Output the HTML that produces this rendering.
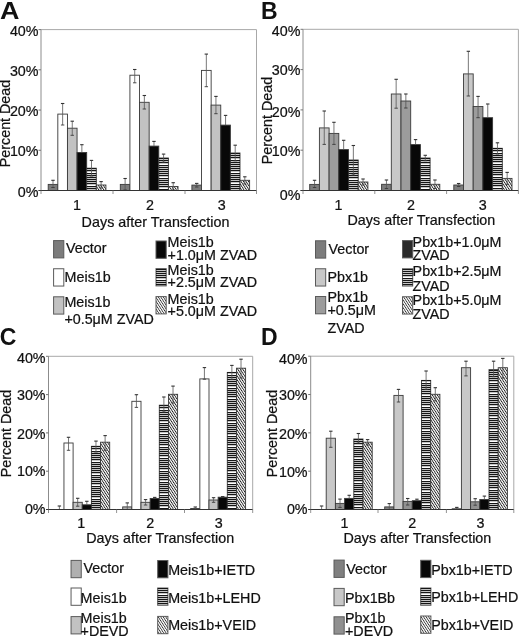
<!DOCTYPE html>
<html><head><meta charset="utf-8"><title>Figure</title>
<style>
html,body{margin:0;padding:0;background:#fff;}
body{width:520px;height:638px;overflow:hidden;}
svg{display:block;font-family:"Liberation Sans", sans-serif;filter:grayscale(1);}
text{fill:#111;stroke:#111;stroke-width:0.22px;}
</style></head><body>
<svg width="520" height="638" viewBox="0 0 520 638">
<defs>
<pattern id="hs" patternUnits="userSpaceOnUse" width="4" height="2.25" x="0" y="0">
<rect width="4" height="2.25" fill="#fff"/><rect width="4" height="1.25" fill="#111"/>
</pattern>
<pattern id="dg" patternUnits="userSpaceOnUse" width="2.1" height="2.1" patternTransform="rotate(-33)">
<rect width="2.1" height="2.1" fill="#fff"/><rect width="0.85" height="2.1" fill="#1e1e1e"/>
</pattern>
<pattern id="hs2" patternUnits="userSpaceOnUse" width="4" height="2.25" x="0" y="0">
<rect width="4" height="2.25" fill="#fff"/><rect width="4" height="1.25" fill="#111"/>
</pattern>
<pattern id="dg2" patternUnits="userSpaceOnUse" width="2.1" height="2.1" patternTransform="rotate(-33)">
<rect width="2.1" height="2.1" fill="#fff"/><rect width="0.8" height="2.1" fill="#333"/>
</pattern>
</defs>
<rect width="520" height="638" fill="#fff"/>
<path d="M41.00 29.60 H256.50 V190.50" fill="none" stroke="#a8a8a8" stroke-width="1"/>
<line x1="41.00" y1="29.60" x2="41.00" y2="190.50" stroke="#8c8c8c" stroke-width="1"/>
<line x1="38.50" y1="190.50" x2="41.00" y2="190.50" stroke="#777" stroke-width="1"/>
<line x1="38.50" y1="150.28" x2="41.00" y2="150.28" stroke="#777" stroke-width="1"/>
<line x1="38.50" y1="110.05" x2="41.00" y2="110.05" stroke="#777" stroke-width="1"/>
<line x1="38.50" y1="69.82" x2="41.00" y2="69.82" stroke="#777" stroke-width="1"/>
<line x1="38.50" y1="29.60" x2="41.00" y2="29.60" stroke="#777" stroke-width="1"/>
<rect x="48.20" y="184.40" width="9.62" height="6.10" fill="#7c7c7c" stroke="#3a3a3a" stroke-width="0.9"/>
<rect x="57.82" y="114.10" width="9.62" height="76.40" fill="#ffffff" stroke="#3a3a3a" stroke-width="0.9"/>
<rect x="67.44" y="128.20" width="9.62" height="62.30" fill="#c2c2c2" stroke="#3a3a3a" stroke-width="0.9"/>
<rect x="77.06" y="152.50" width="9.62" height="38.00" fill="#080808" stroke="#3a3a3a" stroke-width="0.9"/>
<rect x="86.68" y="168.20" width="9.62" height="22.30" fill="#fff" stroke="#3a3a3a" stroke-width="0.9"/>
<path d="M86.68 168.00h9.62v1.35h-9.62zM86.68 170.00h9.62v1.35h-9.62zM86.68 173.00h9.62v1.35h-9.62zM86.68 175.00h9.62v1.35h-9.62zM86.68 177.00h9.62v1.35h-9.62zM86.68 179.00h9.62v1.35h-9.62zM86.68 181.00h9.62v1.35h-9.62zM86.68 183.00h9.62v1.35h-9.62zM86.68 186.00h9.62v1.35h-9.62zM86.68 188.00h9.62v1.35h-9.62zM86.68 190.00h9.62v0.50h-9.62z" fill="#151515"/>
<rect x="96.30" y="185.00" width="9.62" height="5.50" fill="url(#dg)" stroke="#3a3a3a" stroke-width="0.9"/>
<line x1="53.01" y1="180.30" x2="53.01" y2="187.50" stroke="#555" stroke-width="0.8"/>
<line x1="51.31" y1="180.30" x2="54.71" y2="180.30" stroke="#333" stroke-width="1.1"/>
<line x1="51.31" y1="187.50" x2="54.71" y2="187.50" stroke="#3a3a3a" stroke-width="0.9"/>
<line x1="62.63" y1="103.50" x2="62.63" y2="125.00" stroke="#555" stroke-width="0.8"/>
<line x1="60.93" y1="103.50" x2="64.33" y2="103.50" stroke="#333" stroke-width="1.1"/>
<line x1="60.93" y1="125.00" x2="64.33" y2="125.00" stroke="#3a3a3a" stroke-width="0.9"/>
<line x1="72.25" y1="121.20" x2="72.25" y2="135.30" stroke="#555" stroke-width="0.8"/>
<line x1="70.55" y1="121.20" x2="73.95" y2="121.20" stroke="#333" stroke-width="1.1"/>
<line x1="70.55" y1="135.30" x2="73.95" y2="135.30" stroke="#3a3a3a" stroke-width="0.9"/>
<line x1="81.87" y1="144.70" x2="81.87" y2="152.50" stroke="#555" stroke-width="0.8"/>
<line x1="80.17" y1="144.70" x2="83.57" y2="144.70" stroke="#333" stroke-width="1.1"/>
<line x1="91.49" y1="160.40" x2="91.49" y2="176.00" stroke="#555" stroke-width="0.8"/>
<line x1="89.79" y1="160.40" x2="93.19" y2="160.40" stroke="#333" stroke-width="1.1"/>
<line x1="89.79" y1="176.00" x2="93.19" y2="176.00" stroke="#3a3a3a" stroke-width="0.9"/>
<line x1="101.11" y1="181.60" x2="101.11" y2="188.00" stroke="#555" stroke-width="0.8"/>
<line x1="99.41" y1="181.60" x2="102.81" y2="181.60" stroke="#333" stroke-width="1.1"/>
<line x1="99.41" y1="188.00" x2="102.81" y2="188.00" stroke="#3a3a3a" stroke-width="0.9"/>
<rect x="120.30" y="184.40" width="9.62" height="6.10" fill="#7c7c7c" stroke="#3a3a3a" stroke-width="0.9"/>
<rect x="129.92" y="75.20" width="9.62" height="115.30" fill="#ffffff" stroke="#3a3a3a" stroke-width="0.9"/>
<rect x="139.54" y="102.30" width="9.62" height="88.20" fill="#c2c2c2" stroke="#3a3a3a" stroke-width="0.9"/>
<rect x="149.16" y="146.10" width="9.62" height="44.40" fill="#080808" stroke="#3a3a3a" stroke-width="0.9"/>
<rect x="158.78" y="158.00" width="9.62" height="32.50" fill="#fff" stroke="#3a3a3a" stroke-width="0.9"/>
<path d="M158.78 158.00h9.62v1.35h-9.62zM158.78 160.00h9.62v1.35h-9.62zM158.78 162.00h9.62v1.35h-9.62zM158.78 165.00h9.62v1.35h-9.62zM158.78 167.00h9.62v1.35h-9.62zM158.78 169.00h9.62v1.35h-9.62zM158.78 171.00h9.62v1.35h-9.62zM158.78 173.00h9.62v1.35h-9.62zM158.78 175.00h9.62v1.35h-9.62zM158.78 178.00h9.62v1.35h-9.62zM158.78 180.00h9.62v1.35h-9.62zM158.78 182.00h9.62v1.35h-9.62zM158.78 184.00h9.62v1.35h-9.62zM158.78 186.00h9.62v1.35h-9.62zM158.78 189.00h9.62v1.35h-9.62z" fill="#151515"/>
<rect x="168.40" y="186.50" width="9.62" height="4.00" fill="url(#dg)" stroke="#3a3a3a" stroke-width="0.9"/>
<line x1="125.11" y1="178.50" x2="125.11" y2="190.00" stroke="#555" stroke-width="0.8"/>
<line x1="123.41" y1="178.50" x2="126.81" y2="178.50" stroke="#333" stroke-width="1.1"/>
<line x1="123.41" y1="190.00" x2="126.81" y2="190.00" stroke="#3a3a3a" stroke-width="0.9"/>
<line x1="134.73" y1="69.50" x2="134.73" y2="82.80" stroke="#555" stroke-width="0.8"/>
<line x1="133.03" y1="69.50" x2="136.43" y2="69.50" stroke="#333" stroke-width="1.1"/>
<line x1="133.03" y1="82.80" x2="136.43" y2="82.80" stroke="#3a3a3a" stroke-width="0.9"/>
<line x1="144.35" y1="95.50" x2="144.35" y2="109.00" stroke="#555" stroke-width="0.8"/>
<line x1="142.65" y1="95.50" x2="146.05" y2="95.50" stroke="#333" stroke-width="1.1"/>
<line x1="142.65" y1="109.00" x2="146.05" y2="109.00" stroke="#3a3a3a" stroke-width="0.9"/>
<line x1="153.97" y1="141.40" x2="153.97" y2="146.10" stroke="#555" stroke-width="0.8"/>
<line x1="152.27" y1="141.40" x2="155.67" y2="141.40" stroke="#333" stroke-width="1.1"/>
<line x1="163.59" y1="154.10" x2="163.59" y2="162.20" stroke="#555" stroke-width="0.8"/>
<line x1="161.89" y1="154.10" x2="165.29" y2="154.10" stroke="#333" stroke-width="1.1"/>
<line x1="161.89" y1="162.20" x2="165.29" y2="162.20" stroke="#3a3a3a" stroke-width="0.9"/>
<line x1="173.21" y1="182.70" x2="173.21" y2="190.00" stroke="#555" stroke-width="0.8"/>
<line x1="171.51" y1="182.70" x2="174.91" y2="182.70" stroke="#333" stroke-width="1.1"/>
<line x1="171.51" y1="190.00" x2="174.91" y2="190.00" stroke="#3a3a3a" stroke-width="0.9"/>
<rect x="191.90" y="185.10" width="9.62" height="5.40" fill="#7c7c7c" stroke="#3a3a3a" stroke-width="0.9"/>
<rect x="201.52" y="70.40" width="9.62" height="120.10" fill="#ffffff" stroke="#3a3a3a" stroke-width="0.9"/>
<rect x="211.14" y="105.10" width="9.62" height="85.40" fill="#c2c2c2" stroke="#3a3a3a" stroke-width="0.9"/>
<rect x="220.76" y="125.10" width="9.62" height="65.40" fill="#080808" stroke="#3a3a3a" stroke-width="0.9"/>
<rect x="230.38" y="153.00" width="9.62" height="37.50" fill="#fff" stroke="#3a3a3a" stroke-width="0.9"/>
<path d="M230.38 153.00h9.62v1.35h-9.62zM230.38 155.00h9.62v1.35h-9.62zM230.38 157.00h9.62v1.35h-9.62zM230.38 160.00h9.62v1.35h-9.62zM230.38 162.00h9.62v1.35h-9.62zM230.38 164.00h9.62v1.35h-9.62zM230.38 166.00h9.62v1.35h-9.62zM230.38 168.00h9.62v1.35h-9.62zM230.38 170.00h9.62v1.35h-9.62zM230.38 173.00h9.62v1.35h-9.62zM230.38 175.00h9.62v1.35h-9.62zM230.38 177.00h9.62v1.35h-9.62zM230.38 179.00h9.62v1.35h-9.62zM230.38 181.00h9.62v1.35h-9.62zM230.38 184.00h9.62v1.35h-9.62zM230.38 186.00h9.62v1.35h-9.62zM230.38 188.00h9.62v1.35h-9.62zM230.38 190.00h9.62v0.50h-9.62z" fill="#151515"/>
<rect x="240.00" y="180.30" width="9.62" height="10.20" fill="url(#dg)" stroke="#3a3a3a" stroke-width="0.9"/>
<line x1="196.71" y1="183.40" x2="196.71" y2="187.00" stroke="#555" stroke-width="0.8"/>
<line x1="195.01" y1="183.40" x2="198.41" y2="183.40" stroke="#333" stroke-width="1.1"/>
<line x1="195.01" y1="187.00" x2="198.41" y2="187.00" stroke="#3a3a3a" stroke-width="0.9"/>
<line x1="206.33" y1="54.10" x2="206.33" y2="86.70" stroke="#555" stroke-width="0.8"/>
<line x1="204.63" y1="54.10" x2="208.03" y2="54.10" stroke="#333" stroke-width="1.1"/>
<line x1="204.63" y1="86.70" x2="208.03" y2="86.70" stroke="#3a3a3a" stroke-width="0.9"/>
<line x1="215.95" y1="96.40" x2="215.95" y2="113.70" stroke="#555" stroke-width="0.8"/>
<line x1="214.25" y1="96.40" x2="217.65" y2="96.40" stroke="#333" stroke-width="1.1"/>
<line x1="214.25" y1="113.70" x2="217.65" y2="113.70" stroke="#3a3a3a" stroke-width="0.9"/>
<line x1="225.57" y1="115.40" x2="225.57" y2="125.10" stroke="#555" stroke-width="0.8"/>
<line x1="223.87" y1="115.40" x2="227.27" y2="115.40" stroke="#333" stroke-width="1.1"/>
<line x1="235.19" y1="145.20" x2="235.19" y2="160.80" stroke="#555" stroke-width="0.8"/>
<line x1="233.49" y1="145.20" x2="236.89" y2="145.20" stroke="#333" stroke-width="1.1"/>
<line x1="233.49" y1="160.80" x2="236.89" y2="160.80" stroke="#3a3a3a" stroke-width="0.9"/>
<line x1="244.81" y1="176.80" x2="244.81" y2="184.00" stroke="#555" stroke-width="0.8"/>
<line x1="243.11" y1="176.80" x2="246.51" y2="176.80" stroke="#333" stroke-width="1.1"/>
<line x1="243.11" y1="184.00" x2="246.51" y2="184.00" stroke="#3a3a3a" stroke-width="0.9"/>
<line x1="38.50" y1="190.50" x2="256.50" y2="190.50" stroke="#333" stroke-width="1"/>
<line x1="41.00" y1="190.50" x2="41.00" y2="194.00" stroke="#777" stroke-width="0.8"/>
<line x1="113.00" y1="190.50" x2="113.00" y2="194.00" stroke="#777" stroke-width="0.8"/>
<line x1="185.00" y1="190.50" x2="185.00" y2="194.00" stroke="#777" stroke-width="0.8"/>
<line x1="256.50" y1="190.50" x2="256.50" y2="194.00" stroke="#777" stroke-width="0.8"/>
<text x="38.50" y="196.50" font-size="14.3" text-anchor="end" font-weight="normal" >0%</text>
<text x="38.50" y="155.70" font-size="14.3" text-anchor="end" font-weight="normal" >10%</text>
<text x="38.50" y="115.70" font-size="14.3" text-anchor="end" font-weight="normal" >20%</text>
<text x="38.50" y="75.70" font-size="14.3" text-anchor="end" font-weight="normal" >30%</text>
<text x="38.50" y="35.80" font-size="14.3" text-anchor="end" font-weight="normal" >40%</text>
<text x="76.90" y="209.80" font-size="14.3" text-anchor="middle" font-weight="normal" >1</text>
<text x="150.10" y="209.80" font-size="14.3" text-anchor="middle" font-weight="normal" >2</text>
<text x="221.75" y="209.80" font-size="14.3" text-anchor="middle" font-weight="normal" >3</text>
<text x="81.60" y="226.80" font-size="14.3" text-anchor="start" font-weight="normal" textLength="147.8" lengthAdjust="spacing">Days after Transfection</text>
<text x="0" y="0" font-size="14.3" text-anchor="middle" transform="translate(10.30 123.50) rotate(-90)">Percent Dead</text>
<text x="0" y="0" font-size="23" font-weight="bold" style="stroke:none" transform="translate(0.00 18.80) scale(1.17 1)">A</text>
<rect x="53.60" y="240.60" width="10.2" height="17.3" fill="#7c7c7c" stroke="#5a5a5a" stroke-width="1"/>
<text x="66.00" y="253.10" font-size="14.3" text-anchor="start" font-weight="normal" >Vector</text>
<rect x="53.60" y="268.75" width="10.2" height="17.3" fill="#ffffff" stroke="#5a5a5a" stroke-width="1"/>
<text x="64.60" y="282.20" font-size="14.3" text-anchor="start" font-weight="normal" >Meis1b</text>
<rect x="53.60" y="296.80" width="10.2" height="17.3" fill="#c2c2c2" stroke="#5a5a5a" stroke-width="1"/>
<text x="64.40" y="307.20" font-size="14.3" text-anchor="start" font-weight="normal" >Meis1b</text>
<text x="64.40" y="324.00" font-size="14.3" text-anchor="start" font-weight="normal" >+0.5μM ZVAD</text>
<rect x="156.00" y="241.00" width="10.2" height="17.3" fill="#080808" stroke="#5a5a5a" stroke-width="1"/>
<text x="167.60" y="247.20" font-size="14.3" text-anchor="start" font-weight="normal" >Meis1b</text>
<text x="167.60" y="259.90" font-size="14.3" text-anchor="start" font-weight="normal" >+1.0μM ZVAD</text>
<rect x="156.00" y="268.60" width="10.2" height="17.3" fill="#fff" stroke="#5a5a5a" stroke-width="1"/>
<path d="M156.00 269.00h10.20v1.15h-10.20zM156.00 271.00h10.20v1.15h-10.20zM156.00 273.00h10.20v1.15h-10.20zM156.00 275.00h10.20v1.15h-10.20zM156.00 277.00h10.20v1.15h-10.20zM156.00 280.00h10.20v1.15h-10.20zM156.00 282.00h10.20v1.15h-10.20zM156.00 284.00h10.20v1.15h-10.20z" fill="#151515"/>
<text x="167.60" y="275.40" font-size="14.3" text-anchor="start" font-weight="normal" >Meis1b</text>
<text x="167.60" y="287.40" font-size="14.3" text-anchor="start" font-weight="normal" >+2.5μM ZVAD</text>
<rect x="156.00" y="296.60" width="10.2" height="17.3" fill="url(#dg2)" stroke="#5a5a5a" stroke-width="1"/>
<text x="167.60" y="304.00" font-size="14.3" text-anchor="start" font-weight="normal" >Meis1b</text>
<text x="167.60" y="315.50" font-size="14.3" text-anchor="start" font-weight="normal" >+5.0μM ZVAD</text>
<path d="M303.00 29.30 H518.40 V190.50" fill="none" stroke="#a8a8a8" stroke-width="1"/>
<line x1="303.00" y1="29.30" x2="303.00" y2="190.50" stroke="#8c8c8c" stroke-width="1"/>
<line x1="300.50" y1="190.50" x2="303.00" y2="190.50" stroke="#777" stroke-width="1"/>
<line x1="300.50" y1="150.20" x2="303.00" y2="150.20" stroke="#777" stroke-width="1"/>
<line x1="300.50" y1="109.90" x2="303.00" y2="109.90" stroke="#777" stroke-width="1"/>
<line x1="300.50" y1="69.60" x2="303.00" y2="69.60" stroke="#777" stroke-width="1"/>
<line x1="300.50" y1="29.30" x2="303.00" y2="29.30" stroke="#777" stroke-width="1"/>
<rect x="309.70" y="184.40" width="9.70" height="6.10" fill="#7c7c7c" stroke="#3a3a3a" stroke-width="0.9"/>
<rect x="319.40" y="127.90" width="9.70" height="62.60" fill="#c8c8c8" stroke="#3a3a3a" stroke-width="0.9"/>
<rect x="329.10" y="133.40" width="9.70" height="57.10" fill="#9c9c9c" stroke="#3a3a3a" stroke-width="0.9"/>
<rect x="338.80" y="149.60" width="9.70" height="40.90" fill="#080808" stroke="#3a3a3a" stroke-width="0.9"/>
<rect x="348.50" y="160.00" width="9.70" height="30.50" fill="#fff" stroke="#3a3a3a" stroke-width="0.9"/>
<path d="M348.50 160.00h9.70v1.35h-9.70zM348.50 162.00h9.70v1.35h-9.70zM348.50 164.00h9.70v1.35h-9.70zM348.50 167.00h9.70v1.35h-9.70zM348.50 169.00h9.70v1.35h-9.70zM348.50 171.00h9.70v1.35h-9.70zM348.50 173.00h9.70v1.35h-9.70zM348.50 175.00h9.70v1.35h-9.70zM348.50 177.00h9.70v1.35h-9.70zM348.50 180.00h9.70v1.35h-9.70zM348.50 182.00h9.70v1.35h-9.70zM348.50 184.00h9.70v1.35h-9.70zM348.50 186.00h9.70v1.35h-9.70zM348.50 188.00h9.70v1.35h-9.70z" fill="#151515"/>
<rect x="358.20" y="182.00" width="9.70" height="8.50" fill="url(#dg)" stroke="#3a3a3a" stroke-width="0.9"/>
<line x1="314.55" y1="180.30" x2="314.55" y2="187.50" stroke="#555" stroke-width="0.8"/>
<line x1="312.85" y1="180.30" x2="316.25" y2="180.30" stroke="#333" stroke-width="1.1"/>
<line x1="312.85" y1="187.50" x2="316.25" y2="187.50" stroke="#3a3a3a" stroke-width="0.9"/>
<line x1="324.25" y1="111.00" x2="324.25" y2="144.40" stroke="#555" stroke-width="0.8"/>
<line x1="322.55" y1="111.00" x2="325.95" y2="111.00" stroke="#333" stroke-width="1.1"/>
<line x1="322.55" y1="144.40" x2="325.95" y2="144.40" stroke="#3a3a3a" stroke-width="0.9"/>
<line x1="333.95" y1="122.30" x2="333.95" y2="144.40" stroke="#555" stroke-width="0.8"/>
<line x1="332.25" y1="122.30" x2="335.65" y2="122.30" stroke="#333" stroke-width="1.1"/>
<line x1="332.25" y1="144.40" x2="335.65" y2="144.40" stroke="#3a3a3a" stroke-width="0.9"/>
<line x1="343.65" y1="140.30" x2="343.65" y2="149.60" stroke="#555" stroke-width="0.8"/>
<line x1="341.95" y1="140.30" x2="345.35" y2="140.30" stroke="#333" stroke-width="1.1"/>
<line x1="353.35" y1="145.50" x2="353.35" y2="175.00" stroke="#555" stroke-width="0.8"/>
<line x1="351.65" y1="145.50" x2="355.05" y2="145.50" stroke="#333" stroke-width="1.1"/>
<line x1="351.65" y1="175.00" x2="355.05" y2="175.00" stroke="#3a3a3a" stroke-width="0.9"/>
<line x1="363.05" y1="179.00" x2="363.05" y2="185.00" stroke="#555" stroke-width="0.8"/>
<line x1="361.35" y1="179.00" x2="364.75" y2="179.00" stroke="#333" stroke-width="1.1"/>
<line x1="361.35" y1="185.00" x2="364.75" y2="185.00" stroke="#3a3a3a" stroke-width="0.9"/>
<rect x="381.60" y="184.30" width="9.70" height="6.20" fill="#7c7c7c" stroke="#3a3a3a" stroke-width="0.9"/>
<rect x="391.30" y="94.00" width="9.70" height="96.50" fill="#c8c8c8" stroke="#3a3a3a" stroke-width="0.9"/>
<rect x="401.00" y="101.00" width="9.70" height="89.50" fill="#9c9c9c" stroke="#3a3a3a" stroke-width="0.9"/>
<rect x="410.70" y="144.60" width="9.70" height="45.90" fill="#080808" stroke="#3a3a3a" stroke-width="0.9"/>
<rect x="420.40" y="158.00" width="9.70" height="32.50" fill="#fff" stroke="#3a3a3a" stroke-width="0.9"/>
<path d="M420.40 158.00h9.70v1.35h-9.70zM420.40 160.00h9.70v1.35h-9.70zM420.40 162.00h9.70v1.35h-9.70zM420.40 165.00h9.70v1.35h-9.70zM420.40 167.00h9.70v1.35h-9.70zM420.40 169.00h9.70v1.35h-9.70zM420.40 171.00h9.70v1.35h-9.70zM420.40 173.00h9.70v1.35h-9.70zM420.40 175.00h9.70v1.35h-9.70zM420.40 178.00h9.70v1.35h-9.70zM420.40 180.00h9.70v1.35h-9.70zM420.40 182.00h9.70v1.35h-9.70zM420.40 184.00h9.70v1.35h-9.70zM420.40 186.00h9.70v1.35h-9.70zM420.40 189.00h9.70v1.35h-9.70z" fill="#151515"/>
<rect x="430.10" y="184.30" width="9.70" height="6.20" fill="url(#dg)" stroke="#3a3a3a" stroke-width="0.9"/>
<line x1="386.45" y1="180.00" x2="386.45" y2="188.50" stroke="#555" stroke-width="0.8"/>
<line x1="384.75" y1="180.00" x2="388.15" y2="180.00" stroke="#333" stroke-width="1.1"/>
<line x1="384.75" y1="188.50" x2="388.15" y2="188.50" stroke="#3a3a3a" stroke-width="0.9"/>
<line x1="396.15" y1="79.30" x2="396.15" y2="108.20" stroke="#555" stroke-width="0.8"/>
<line x1="394.45" y1="79.30" x2="397.85" y2="79.30" stroke="#333" stroke-width="1.1"/>
<line x1="394.45" y1="108.20" x2="397.85" y2="108.20" stroke="#3a3a3a" stroke-width="0.9"/>
<line x1="405.85" y1="94.00" x2="405.85" y2="108.00" stroke="#555" stroke-width="0.8"/>
<line x1="404.15" y1="94.00" x2="407.55" y2="94.00" stroke="#333" stroke-width="1.1"/>
<line x1="404.15" y1="108.00" x2="407.55" y2="108.00" stroke="#3a3a3a" stroke-width="0.9"/>
<line x1="415.55" y1="139.60" x2="415.55" y2="144.60" stroke="#555" stroke-width="0.8"/>
<line x1="413.85" y1="139.60" x2="417.25" y2="139.60" stroke="#333" stroke-width="1.1"/>
<line x1="425.25" y1="155.30" x2="425.25" y2="160.70" stroke="#555" stroke-width="0.8"/>
<line x1="423.55" y1="155.30" x2="426.95" y2="155.30" stroke="#333" stroke-width="1.1"/>
<line x1="423.55" y1="160.70" x2="426.95" y2="160.70" stroke="#3a3a3a" stroke-width="0.9"/>
<line x1="434.95" y1="180.00" x2="434.95" y2="188.50" stroke="#555" stroke-width="0.8"/>
<line x1="433.25" y1="180.00" x2="436.65" y2="180.00" stroke="#333" stroke-width="1.1"/>
<line x1="433.25" y1="188.50" x2="436.65" y2="188.50" stroke="#3a3a3a" stroke-width="0.9"/>
<rect x="453.80" y="185.00" width="9.70" height="5.50" fill="#7c7c7c" stroke="#3a3a3a" stroke-width="0.9"/>
<rect x="463.50" y="73.90" width="9.70" height="116.60" fill="#c8c8c8" stroke="#3a3a3a" stroke-width="0.9"/>
<rect x="473.20" y="106.50" width="9.70" height="84.00" fill="#9c9c9c" stroke="#3a3a3a" stroke-width="0.9"/>
<rect x="482.90" y="117.70" width="9.70" height="72.80" fill="#080808" stroke="#3a3a3a" stroke-width="0.9"/>
<rect x="492.60" y="148.30" width="9.70" height="42.20" fill="#fff" stroke="#3a3a3a" stroke-width="0.9"/>
<path d="M492.60 148.00h9.70v1.35h-9.70zM492.60 150.00h9.70v1.35h-9.70zM492.60 153.00h9.70v1.35h-9.70zM492.60 155.00h9.70v1.35h-9.70zM492.60 157.00h9.70v1.35h-9.70zM492.60 159.00h9.70v1.35h-9.70zM492.60 161.00h9.70v1.35h-9.70zM492.60 164.00h9.70v1.35h-9.70zM492.60 166.00h9.70v1.35h-9.70zM492.60 168.00h9.70v1.35h-9.70zM492.60 170.00h9.70v1.35h-9.70zM492.60 172.00h9.70v1.35h-9.70zM492.60 174.00h9.70v1.35h-9.70zM492.60 177.00h9.70v1.35h-9.70zM492.60 179.00h9.70v1.35h-9.70zM492.60 181.00h9.70v1.35h-9.70zM492.60 183.00h9.70v1.35h-9.70zM492.60 185.00h9.70v1.35h-9.70zM492.60 188.00h9.70v1.35h-9.70zM492.60 190.00h9.70v0.50h-9.70z" fill="#151515"/>
<rect x="502.30" y="178.40" width="9.70" height="12.10" fill="url(#dg)" stroke="#3a3a3a" stroke-width="0.9"/>
<line x1="458.65" y1="183.50" x2="458.65" y2="186.50" stroke="#555" stroke-width="0.8"/>
<line x1="456.95" y1="183.50" x2="460.35" y2="183.50" stroke="#333" stroke-width="1.1"/>
<line x1="456.95" y1="186.50" x2="460.35" y2="186.50" stroke="#3a3a3a" stroke-width="0.9"/>
<line x1="468.35" y1="51.30" x2="468.35" y2="96.00" stroke="#555" stroke-width="0.8"/>
<line x1="466.65" y1="51.30" x2="470.05" y2="51.30" stroke="#333" stroke-width="1.1"/>
<line x1="466.65" y1="96.00" x2="470.05" y2="96.00" stroke="#3a3a3a" stroke-width="0.9"/>
<line x1="478.05" y1="96.40" x2="478.05" y2="117.70" stroke="#555" stroke-width="0.8"/>
<line x1="476.35" y1="96.40" x2="479.75" y2="96.40" stroke="#333" stroke-width="1.1"/>
<line x1="476.35" y1="117.70" x2="479.75" y2="117.70" stroke="#3a3a3a" stroke-width="0.9"/>
<line x1="487.75" y1="104.00" x2="487.75" y2="117.70" stroke="#555" stroke-width="0.8"/>
<line x1="486.05" y1="104.00" x2="489.45" y2="104.00" stroke="#333" stroke-width="1.1"/>
<line x1="497.45" y1="142.80" x2="497.45" y2="154.00" stroke="#555" stroke-width="0.8"/>
<line x1="495.75" y1="142.80" x2="499.15" y2="142.80" stroke="#333" stroke-width="1.1"/>
<line x1="495.75" y1="154.00" x2="499.15" y2="154.00" stroke="#3a3a3a" stroke-width="0.9"/>
<line x1="507.15" y1="172.40" x2="507.15" y2="184.40" stroke="#555" stroke-width="0.8"/>
<line x1="505.45" y1="172.40" x2="508.85" y2="172.40" stroke="#333" stroke-width="1.1"/>
<line x1="505.45" y1="184.40" x2="508.85" y2="184.40" stroke="#3a3a3a" stroke-width="0.9"/>
<line x1="300.50" y1="190.50" x2="518.40" y2="190.50" stroke="#333" stroke-width="1"/>
<line x1="303.00" y1="190.50" x2="303.00" y2="194.00" stroke="#777" stroke-width="0.8"/>
<line x1="374.80" y1="190.50" x2="374.80" y2="194.00" stroke="#777" stroke-width="0.8"/>
<line x1="446.60" y1="190.50" x2="446.60" y2="194.00" stroke="#777" stroke-width="0.8"/>
<line x1="518.40" y1="190.50" x2="518.40" y2="194.00" stroke="#777" stroke-width="0.8"/>
<text x="300.40" y="199.70" font-size="14.3" text-anchor="end" font-weight="normal" >0%</text>
<text x="300.40" y="155.50" font-size="14.3" text-anchor="end" font-weight="normal" >10%</text>
<text x="300.40" y="116.50" font-size="14.3" text-anchor="end" font-weight="normal" >20%</text>
<text x="300.40" y="75.20" font-size="14.3" text-anchor="end" font-weight="normal" >30%</text>
<text x="300.40" y="35.50" font-size="14.3" text-anchor="end" font-weight="normal" >40%</text>
<text x="338.60" y="209.60" font-size="14.3" text-anchor="middle" font-weight="normal" >1</text>
<text x="411.00" y="209.60" font-size="14.3" text-anchor="middle" font-weight="normal" >2</text>
<text x="482.80" y="209.60" font-size="14.3" text-anchor="middle" font-weight="normal" >3</text>
<text x="347.50" y="225.10" font-size="14.3" text-anchor="start" font-weight="normal" textLength="147.8" lengthAdjust="spacing">Days after Transfection</text>
<text x="0" y="0" font-size="14.3" text-anchor="middle" transform="translate(272.30 120.60) rotate(-90)">Percent Dead</text>
<text x="261.00" y="18.75" font-size="23" text-anchor="start" font-weight="bold" style="stroke:none">B</text>
<rect x="315.50" y="240.80" width="10.2" height="17.3" fill="#7c7c7c" stroke="#5a5a5a" stroke-width="1"/>
<text x="328.60" y="253.50" font-size="14.3" text-anchor="start" font-weight="normal" >Vector</text>
<rect x="315.50" y="268.75" width="10.2" height="17.3" fill="#c8c8c8" stroke="#5a5a5a" stroke-width="1"/>
<text x="327.50" y="282.25" font-size="14.3" text-anchor="start" font-weight="normal" >Pbx1b</text>
<rect x="315.50" y="296.50" width="10.2" height="17.3" fill="#9c9c9c" stroke="#5a5a5a" stroke-width="1"/>
<text x="327.50" y="302.10" font-size="14.3" text-anchor="start" font-weight="normal" >Pbx1b</text>
<text x="327.50" y="315.00" font-size="14.3" text-anchor="start" font-weight="normal" >+0.5μM</text>
<text x="327.50" y="333.10" font-size="14.3" text-anchor="start" font-weight="normal" >ZVAD</text>
<rect x="402.50" y="240.60" width="10.2" height="17.3" fill="#2a2a2a" stroke="#5a5a5a" stroke-width="1"/>
<text x="412.60" y="246.75" font-size="14.3" text-anchor="start" font-weight="normal" >Pbx1b+1.0μM</text>
<text x="412.60" y="259.50" font-size="14.3" text-anchor="start" font-weight="normal" >ZVAD</text>
<rect x="402.50" y="268.75" width="10.2" height="17.3" fill="#fff" stroke="#5a5a5a" stroke-width="1"/>
<path d="M402.50 269.00h10.20v1.15h-10.20zM402.50 271.00h10.20v1.15h-10.20zM402.50 273.00h10.20v1.15h-10.20zM402.50 275.00h10.20v1.15h-10.20zM402.50 278.00h10.20v1.15h-10.20zM402.50 280.00h10.20v1.15h-10.20zM402.50 282.00h10.20v1.15h-10.20zM402.50 284.00h10.20v1.15h-10.20z" fill="#151515"/>
<text x="412.60" y="276.40" font-size="14.3" text-anchor="start" font-weight="normal" >Pbx1b+2.5μM</text>
<text x="412.60" y="290.60" font-size="14.3" text-anchor="start" font-weight="normal" >ZVAD</text>
<rect x="402.50" y="296.75" width="10.2" height="17.3" fill="url(#dg2)" stroke="#5a5a5a" stroke-width="1"/>
<text x="412.60" y="305.00" font-size="14.3" text-anchor="start" font-weight="normal" >Pbx1b+5.0μM</text>
<text x="412.60" y="319.00" font-size="14.3" text-anchor="start" font-weight="normal" >ZVAD</text>
<path d="M48.50 356.30 H252.70 V509.50" fill="none" stroke="#a8a8a8" stroke-width="1"/>
<line x1="48.50" y1="356.30" x2="48.50" y2="509.50" stroke="#8c8c8c" stroke-width="1"/>
<line x1="46.00" y1="509.50" x2="48.50" y2="509.50" stroke="#777" stroke-width="1"/>
<line x1="46.00" y1="471.20" x2="48.50" y2="471.20" stroke="#777" stroke-width="1"/>
<line x1="46.00" y1="432.90" x2="48.50" y2="432.90" stroke="#777" stroke-width="1"/>
<line x1="46.00" y1="394.60" x2="48.50" y2="394.60" stroke="#777" stroke-width="1"/>
<line x1="46.00" y1="356.30" x2="48.50" y2="356.30" stroke="#777" stroke-width="1"/>
<rect x="63.95" y="443.00" width="9.15" height="66.50" fill="#ffffff" stroke="#3a3a3a" stroke-width="0.9"/>
<rect x="73.10" y="502.30" width="9.15" height="7.20" fill="#c2c2c2" stroke="#3a3a3a" stroke-width="0.9"/>
<rect x="82.25" y="504.80" width="9.15" height="4.70" fill="#080808" stroke="#3a3a3a" stroke-width="0.9"/>
<rect x="91.40" y="446.30" width="9.15" height="63.20" fill="#fff" stroke="#3a3a3a" stroke-width="0.9"/>
<path d="M91.40 446.00h9.15v1.35h-9.15zM91.40 448.00h9.15v1.35h-9.15zM91.40 451.00h9.15v1.35h-9.15zM91.40 453.00h9.15v1.35h-9.15zM91.40 455.00h9.15v1.35h-9.15zM91.40 457.00h9.15v1.35h-9.15zM91.40 459.00h9.15v1.35h-9.15zM91.40 462.00h9.15v1.35h-9.15zM91.40 464.00h9.15v1.35h-9.15zM91.40 466.00h9.15v1.35h-9.15zM91.40 468.00h9.15v1.35h-9.15zM91.40 470.00h9.15v1.35h-9.15zM91.40 472.00h9.15v1.35h-9.15zM91.40 475.00h9.15v1.35h-9.15zM91.40 477.00h9.15v1.35h-9.15zM91.40 479.00h9.15v1.35h-9.15zM91.40 481.00h9.15v1.35h-9.15zM91.40 483.00h9.15v1.35h-9.15zM91.40 486.00h9.15v1.35h-9.15zM91.40 488.00h9.15v1.35h-9.15zM91.40 490.00h9.15v1.35h-9.15zM91.40 492.00h9.15v1.35h-9.15zM91.40 494.00h9.15v1.35h-9.15zM91.40 496.00h9.15v1.35h-9.15zM91.40 499.00h9.15v1.35h-9.15zM91.40 501.00h9.15v1.35h-9.15zM91.40 503.00h9.15v1.35h-9.15zM91.40 505.00h9.15v1.35h-9.15zM91.40 507.00h9.15v1.35h-9.15z" fill="#151515"/>
<rect x="100.55" y="442.20" width="9.15" height="67.30" fill="url(#dg)" stroke="#3a3a3a" stroke-width="0.9"/>
<line x1="59.38" y1="506.00" x2="59.38" y2="509.50" stroke="#555" stroke-width="0.8"/>
<line x1="57.67" y1="506.00" x2="61.08" y2="506.00" stroke="#333" stroke-width="1.1"/>
<line x1="57.67" y1="509.50" x2="61.08" y2="509.50" stroke="#3a3a3a" stroke-width="0.9"/>
<line x1="68.52" y1="437.30" x2="68.52" y2="450.30" stroke="#555" stroke-width="0.8"/>
<line x1="66.82" y1="437.30" x2="70.22" y2="437.30" stroke="#333" stroke-width="1.1"/>
<line x1="66.82" y1="450.30" x2="70.22" y2="450.30" stroke="#3a3a3a" stroke-width="0.9"/>
<line x1="77.67" y1="498.30" x2="77.67" y2="506.20" stroke="#555" stroke-width="0.8"/>
<line x1="75.97" y1="498.30" x2="79.38" y2="498.30" stroke="#333" stroke-width="1.1"/>
<line x1="75.97" y1="506.20" x2="79.38" y2="506.20" stroke="#3a3a3a" stroke-width="0.9"/>
<line x1="86.83" y1="501.30" x2="86.83" y2="504.80" stroke="#555" stroke-width="0.8"/>
<line x1="85.12" y1="501.30" x2="88.53" y2="501.30" stroke="#333" stroke-width="1.1"/>
<line x1="95.98" y1="441.10" x2="95.98" y2="452.00" stroke="#555" stroke-width="0.8"/>
<line x1="94.28" y1="441.10" x2="97.68" y2="441.10" stroke="#333" stroke-width="1.1"/>
<line x1="94.28" y1="452.00" x2="97.68" y2="452.00" stroke="#3a3a3a" stroke-width="0.9"/>
<line x1="105.12" y1="435.60" x2="105.12" y2="450.30" stroke="#555" stroke-width="0.8"/>
<line x1="103.42" y1="435.60" x2="106.83" y2="435.60" stroke="#333" stroke-width="1.1"/>
<line x1="103.42" y1="450.30" x2="106.83" y2="450.30" stroke="#3a3a3a" stroke-width="0.9"/>
<rect x="122.70" y="506.90" width="9.15" height="2.60" fill="#b0b0b0" stroke="#3a3a3a" stroke-width="0.9"/>
<rect x="131.85" y="401.30" width="9.15" height="108.20" fill="#ffffff" stroke="#3a3a3a" stroke-width="0.9"/>
<rect x="141.00" y="502.30" width="9.15" height="7.20" fill="#c2c2c2" stroke="#3a3a3a" stroke-width="0.9"/>
<rect x="150.15" y="498.50" width="9.15" height="11.00" fill="#080808" stroke="#3a3a3a" stroke-width="0.9"/>
<rect x="159.30" y="405.20" width="9.15" height="104.30" fill="#fff" stroke="#3a3a3a" stroke-width="0.9"/>
<path d="M159.30 405.00h9.15v1.35h-9.15zM159.30 407.00h9.15v1.35h-9.15zM159.30 410.00h9.15v1.35h-9.15zM159.30 412.00h9.15v1.35h-9.15zM159.30 414.00h9.15v1.35h-9.15zM159.30 416.00h9.15v1.35h-9.15zM159.30 418.00h9.15v1.35h-9.15zM159.30 420.00h9.15v1.35h-9.15zM159.30 423.00h9.15v1.35h-9.15zM159.30 425.00h9.15v1.35h-9.15zM159.30 427.00h9.15v1.35h-9.15zM159.30 429.00h9.15v1.35h-9.15zM159.30 431.00h9.15v1.35h-9.15zM159.30 434.00h9.15v1.35h-9.15zM159.30 436.00h9.15v1.35h-9.15zM159.30 438.00h9.15v1.35h-9.15zM159.30 440.00h9.15v1.35h-9.15zM159.30 442.00h9.15v1.35h-9.15zM159.30 444.00h9.15v1.35h-9.15zM159.30 447.00h9.15v1.35h-9.15zM159.30 449.00h9.15v1.35h-9.15zM159.30 451.00h9.15v1.35h-9.15zM159.30 453.00h9.15v1.35h-9.15zM159.30 455.00h9.15v1.35h-9.15zM159.30 458.00h9.15v1.35h-9.15zM159.30 460.00h9.15v1.35h-9.15zM159.30 462.00h9.15v1.35h-9.15zM159.30 464.00h9.15v1.35h-9.15zM159.30 466.00h9.15v1.35h-9.15zM159.30 468.00h9.15v1.35h-9.15zM159.30 471.00h9.15v1.35h-9.15zM159.30 473.00h9.15v1.35h-9.15zM159.30 475.00h9.15v1.35h-9.15zM159.30 477.00h9.15v1.35h-9.15zM159.30 479.00h9.15v1.35h-9.15zM159.30 482.00h9.15v1.35h-9.15zM159.30 484.00h9.15v1.35h-9.15zM159.30 486.00h9.15v1.35h-9.15zM159.30 488.00h9.15v1.35h-9.15zM159.30 490.00h9.15v1.35h-9.15zM159.30 492.00h9.15v1.35h-9.15zM159.30 495.00h9.15v1.35h-9.15zM159.30 497.00h9.15v1.35h-9.15zM159.30 499.00h9.15v1.35h-9.15zM159.30 501.00h9.15v1.35h-9.15zM159.30 503.00h9.15v1.35h-9.15zM159.30 505.00h9.15v1.35h-9.15zM159.30 508.00h9.15v1.35h-9.15z" fill="#151515"/>
<rect x="168.45" y="394.30" width="9.15" height="115.20" fill="url(#dg)" stroke="#3a3a3a" stroke-width="0.9"/>
<line x1="127.28" y1="502.90" x2="127.28" y2="509.50" stroke="#555" stroke-width="0.8"/>
<line x1="125.58" y1="502.90" x2="128.97" y2="502.90" stroke="#333" stroke-width="1.1"/>
<line x1="125.58" y1="509.50" x2="128.97" y2="509.50" stroke="#3a3a3a" stroke-width="0.9"/>
<line x1="136.42" y1="394.70" x2="136.42" y2="407.40" stroke="#555" stroke-width="0.8"/>
<line x1="134.72" y1="394.70" x2="138.12" y2="394.70" stroke="#333" stroke-width="1.1"/>
<line x1="134.72" y1="407.40" x2="138.12" y2="407.40" stroke="#3a3a3a" stroke-width="0.9"/>
<line x1="145.57" y1="499.60" x2="145.57" y2="505.00" stroke="#555" stroke-width="0.8"/>
<line x1="143.88" y1="499.60" x2="147.27" y2="499.60" stroke="#333" stroke-width="1.1"/>
<line x1="143.88" y1="505.00" x2="147.27" y2="505.00" stroke="#3a3a3a" stroke-width="0.9"/>
<line x1="154.72" y1="497.40" x2="154.72" y2="498.50" stroke="#555" stroke-width="0.8"/>
<line x1="153.03" y1="497.40" x2="156.42" y2="497.40" stroke="#333" stroke-width="1.1"/>
<line x1="163.88" y1="397.00" x2="163.88" y2="412.00" stroke="#555" stroke-width="0.8"/>
<line x1="162.18" y1="397.00" x2="165.57" y2="397.00" stroke="#333" stroke-width="1.1"/>
<line x1="162.18" y1="412.00" x2="165.57" y2="412.00" stroke="#3a3a3a" stroke-width="0.9"/>
<line x1="173.02" y1="386.10" x2="173.02" y2="403.00" stroke="#555" stroke-width="0.8"/>
<line x1="171.32" y1="386.10" x2="174.72" y2="386.10" stroke="#333" stroke-width="1.1"/>
<line x1="171.32" y1="403.00" x2="174.72" y2="403.00" stroke="#3a3a3a" stroke-width="0.9"/>
<rect x="190.70" y="508.50" width="9.15" height="1.00" fill="#b0b0b0" stroke="#3a3a3a" stroke-width="0.9"/>
<rect x="199.85" y="378.90" width="9.15" height="130.60" fill="#ffffff" stroke="#3a3a3a" stroke-width="0.9"/>
<rect x="209.00" y="500.00" width="9.15" height="9.50" fill="#c2c2c2" stroke="#3a3a3a" stroke-width="0.9"/>
<rect x="218.15" y="497.20" width="9.15" height="12.30" fill="#080808" stroke="#3a3a3a" stroke-width="0.9"/>
<rect x="227.30" y="372.40" width="9.15" height="137.10" fill="#fff" stroke="#3a3a3a" stroke-width="0.9"/>
<path d="M227.30 372.00h9.15v1.35h-9.15zM227.30 375.00h9.15v1.35h-9.15zM227.30 377.00h9.15v1.35h-9.15zM227.30 379.00h9.15v1.35h-9.15zM227.30 381.00h9.15v1.35h-9.15zM227.30 383.00h9.15v1.35h-9.15zM227.30 385.00h9.15v1.35h-9.15zM227.30 388.00h9.15v1.35h-9.15zM227.30 390.00h9.15v1.35h-9.15zM227.30 392.00h9.15v1.35h-9.15zM227.30 394.00h9.15v1.35h-9.15zM227.30 396.00h9.15v1.35h-9.15zM227.30 399.00h9.15v1.35h-9.15zM227.30 401.00h9.15v1.35h-9.15zM227.30 403.00h9.15v1.35h-9.15zM227.30 405.00h9.15v1.35h-9.15zM227.30 407.00h9.15v1.35h-9.15zM227.30 409.00h9.15v1.35h-9.15zM227.30 412.00h9.15v1.35h-9.15zM227.30 414.00h9.15v1.35h-9.15zM227.30 416.00h9.15v1.35h-9.15zM227.30 418.00h9.15v1.35h-9.15zM227.30 420.00h9.15v1.35h-9.15zM227.30 423.00h9.15v1.35h-9.15zM227.30 425.00h9.15v1.35h-9.15zM227.30 427.00h9.15v1.35h-9.15zM227.30 429.00h9.15v1.35h-9.15zM227.30 431.00h9.15v1.35h-9.15zM227.30 433.00h9.15v1.35h-9.15zM227.30 436.00h9.15v1.35h-9.15zM227.30 438.00h9.15v1.35h-9.15zM227.30 440.00h9.15v1.35h-9.15zM227.30 442.00h9.15v1.35h-9.15zM227.30 444.00h9.15v1.35h-9.15zM227.30 447.00h9.15v1.35h-9.15zM227.30 449.00h9.15v1.35h-9.15zM227.30 451.00h9.15v1.35h-9.15zM227.30 453.00h9.15v1.35h-9.15zM227.30 455.00h9.15v1.35h-9.15zM227.30 457.00h9.15v1.35h-9.15zM227.30 460.00h9.15v1.35h-9.15zM227.30 462.00h9.15v1.35h-9.15zM227.30 464.00h9.15v1.35h-9.15zM227.30 466.00h9.15v1.35h-9.15zM227.30 468.00h9.15v1.35h-9.15zM227.30 470.00h9.15v1.35h-9.15zM227.30 473.00h9.15v1.35h-9.15zM227.30 475.00h9.15v1.35h-9.15zM227.30 477.00h9.15v1.35h-9.15zM227.30 479.00h9.15v1.35h-9.15zM227.30 481.00h9.15v1.35h-9.15zM227.30 484.00h9.15v1.35h-9.15zM227.30 486.00h9.15v1.35h-9.15zM227.30 488.00h9.15v1.35h-9.15zM227.30 490.00h9.15v1.35h-9.15zM227.30 492.00h9.15v1.35h-9.15zM227.30 494.00h9.15v1.35h-9.15zM227.30 497.00h9.15v1.35h-9.15zM227.30 499.00h9.15v1.35h-9.15zM227.30 501.00h9.15v1.35h-9.15zM227.30 503.00h9.15v1.35h-9.15zM227.30 505.00h9.15v1.35h-9.15zM227.30 508.00h9.15v1.35h-9.15z" fill="#151515"/>
<rect x="236.45" y="368.20" width="9.15" height="141.30" fill="url(#dg)" stroke="#3a3a3a" stroke-width="0.9"/>
<line x1="195.27" y1="507.00" x2="195.27" y2="509.50" stroke="#555" stroke-width="0.8"/>
<line x1="193.57" y1="507.00" x2="196.97" y2="507.00" stroke="#333" stroke-width="1.1"/>
<line x1="193.57" y1="509.50" x2="196.97" y2="509.50" stroke="#3a3a3a" stroke-width="0.9"/>
<line x1="204.42" y1="367.60" x2="204.42" y2="379.20" stroke="#555" stroke-width="0.8"/>
<line x1="202.72" y1="367.60" x2="206.12" y2="367.60" stroke="#333" stroke-width="1.1"/>
<line x1="202.72" y1="379.20" x2="206.12" y2="379.20" stroke="#3a3a3a" stroke-width="0.9"/>
<line x1="213.57" y1="497.70" x2="213.57" y2="502.30" stroke="#555" stroke-width="0.8"/>
<line x1="211.88" y1="497.70" x2="215.27" y2="497.70" stroke="#333" stroke-width="1.1"/>
<line x1="211.88" y1="502.30" x2="215.27" y2="502.30" stroke="#3a3a3a" stroke-width="0.9"/>
<line x1="222.72" y1="496.60" x2="222.72" y2="497.20" stroke="#555" stroke-width="0.8"/>
<line x1="221.02" y1="496.60" x2="224.42" y2="496.60" stroke="#333" stroke-width="1.1"/>
<line x1="231.87" y1="365.40" x2="231.87" y2="379.40" stroke="#555" stroke-width="0.8"/>
<line x1="230.17" y1="365.40" x2="233.57" y2="365.40" stroke="#333" stroke-width="1.1"/>
<line x1="230.17" y1="379.40" x2="233.57" y2="379.40" stroke="#3a3a3a" stroke-width="0.9"/>
<line x1="241.02" y1="359.20" x2="241.02" y2="378.00" stroke="#555" stroke-width="0.8"/>
<line x1="239.32" y1="359.20" x2="242.72" y2="359.20" stroke="#333" stroke-width="1.1"/>
<line x1="239.32" y1="378.00" x2="242.72" y2="378.00" stroke="#3a3a3a" stroke-width="0.9"/>
<line x1="46.00" y1="509.50" x2="252.70" y2="509.50" stroke="#333" stroke-width="1"/>
<line x1="48.50" y1="509.50" x2="48.50" y2="513.00" stroke="#777" stroke-width="0.8"/>
<line x1="116.60" y1="509.50" x2="116.60" y2="513.00" stroke="#777" stroke-width="0.8"/>
<line x1="184.50" y1="509.50" x2="184.50" y2="513.00" stroke="#777" stroke-width="0.8"/>
<line x1="252.70" y1="509.50" x2="252.70" y2="513.00" stroke="#777" stroke-width="0.8"/>
<text x="45.60" y="514.30" font-size="14.3" text-anchor="end" font-weight="normal" >0%</text>
<text x="45.60" y="475.90" font-size="14.3" text-anchor="end" font-weight="normal" >10%</text>
<text x="45.60" y="438.80" font-size="14.3" text-anchor="end" font-weight="normal" >20%</text>
<text x="45.60" y="400.20" font-size="14.3" text-anchor="end" font-weight="normal" >30%</text>
<text x="45.60" y="363.00" font-size="14.3" text-anchor="end" font-weight="normal" >40%</text>
<text x="81.25" y="527.60" font-size="14.3" text-anchor="middle" font-weight="normal" >1</text>
<text x="150.35" y="527.60" font-size="14.3" text-anchor="middle" font-weight="normal" >2</text>
<text x="218.80" y="527.60" font-size="14.3" text-anchor="middle" font-weight="normal" >3</text>
<text x="86.20" y="542.60" font-size="14.3" text-anchor="start" font-weight="normal" textLength="148" lengthAdjust="spacing">Days after Transfection</text>
<text x="0" y="0" font-size="14.3" text-anchor="middle" transform="translate(11.00 433.60) rotate(-90)">Percent Dead</text>
<text x="-0.30" y="345.00" font-size="23" text-anchor="start" font-weight="bold" style="stroke:none">C</text>
<rect x="71.05" y="560.40" width="10.2" height="17.3" fill="#b0b0b0" stroke="#5a5a5a" stroke-width="1"/>
<text x="83.50" y="573.20" font-size="14.3" text-anchor="start" font-weight="normal" >Vector</text>
<rect x="71.05" y="588.00" width="10.2" height="17.3" fill="#ffffff" stroke="#5a5a5a" stroke-width="1"/>
<text x="80.60" y="602.50" font-size="14.3" text-anchor="start" font-weight="normal" >Meis1b</text>
<rect x="71.05" y="616.60" width="10.2" height="17.3" fill="#c2c2c2" stroke="#5a5a5a" stroke-width="1"/>
<text x="80.60" y="623.30" font-size="14.3" text-anchor="start" font-weight="normal" >Meis1b</text>
<text x="80.60" y="636.30" font-size="14.3" text-anchor="start" font-weight="normal" >+DEVD</text>
<rect x="157.70" y="560.50" width="10.2" height="17.3" fill="#080808" stroke="#5a5a5a" stroke-width="1"/>
<text x="168.20" y="575.20" font-size="14.3" text-anchor="start" font-weight="normal" >Meis1b+IETD</text>
<rect x="157.70" y="588.00" width="10.2" height="17.3" fill="#fff" stroke="#5a5a5a" stroke-width="1"/>
<path d="M157.70 588.00h10.20v1.15h-10.20zM157.70 590.00h10.20v1.15h-10.20zM157.70 592.00h10.20v1.15h-10.20zM157.70 595.00h10.20v1.15h-10.20zM157.70 597.00h10.20v1.15h-10.20zM157.70 599.00h10.20v1.15h-10.20zM157.70 601.00h10.20v1.15h-10.20zM157.70 603.00h10.20v1.15h-10.20z" fill="#151515"/>
<text x="168.20" y="602.50" font-size="14.3" text-anchor="start" font-weight="normal" >Meis1b+LEHD</text>
<rect x="157.70" y="616.40" width="10.2" height="17.3" fill="url(#dg2)" stroke="#5a5a5a" stroke-width="1"/>
<text x="168.20" y="630.20" font-size="14.3" text-anchor="start" font-weight="normal" >Meis1b+VEID</text>
<path d="M310.70 356.20 H513.80 V509.50" fill="none" stroke="#a8a8a8" stroke-width="1"/>
<line x1="310.70" y1="356.20" x2="310.70" y2="509.50" stroke="#8c8c8c" stroke-width="1"/>
<line x1="308.20" y1="509.50" x2="310.70" y2="509.50" stroke="#777" stroke-width="1"/>
<line x1="308.20" y1="471.18" x2="310.70" y2="471.18" stroke="#777" stroke-width="1"/>
<line x1="308.20" y1="432.85" x2="310.70" y2="432.85" stroke="#777" stroke-width="1"/>
<line x1="308.20" y1="394.52" x2="310.70" y2="394.52" stroke="#777" stroke-width="1"/>
<line x1="308.20" y1="356.20" x2="310.70" y2="356.20" stroke="#777" stroke-width="1"/>
<rect x="326.20" y="438.20" width="9.20" height="71.30" fill="#c8c8c8" stroke="#3a3a3a" stroke-width="0.9"/>
<rect x="335.40" y="503.40" width="9.20" height="6.10" fill="#909090" stroke="#3a3a3a" stroke-width="0.9"/>
<rect x="344.60" y="498.40" width="9.20" height="11.10" fill="#080808" stroke="#3a3a3a" stroke-width="0.9"/>
<rect x="353.80" y="439.00" width="9.20" height="70.50" fill="#fff" stroke="#3a3a3a" stroke-width="0.9"/>
<path d="M353.80 439.00h9.20v1.35h-9.20zM353.80 441.00h9.20v1.35h-9.20zM353.80 443.00h9.20v1.35h-9.20zM353.80 446.00h9.20v1.35h-9.20zM353.80 448.00h9.20v1.35h-9.20zM353.80 450.00h9.20v1.35h-9.20zM353.80 452.00h9.20v1.35h-9.20zM353.80 454.00h9.20v1.35h-9.20zM353.80 456.00h9.20v1.35h-9.20zM353.80 459.00h9.20v1.35h-9.20zM353.80 461.00h9.20v1.35h-9.20zM353.80 463.00h9.20v1.35h-9.20zM353.80 465.00h9.20v1.35h-9.20zM353.80 467.00h9.20v1.35h-9.20zM353.80 470.00h9.20v1.35h-9.20zM353.80 472.00h9.20v1.35h-9.20zM353.80 474.00h9.20v1.35h-9.20zM353.80 476.00h9.20v1.35h-9.20zM353.80 478.00h9.20v1.35h-9.20zM353.80 480.00h9.20v1.35h-9.20zM353.80 483.00h9.20v1.35h-9.20zM353.80 485.00h9.20v1.35h-9.20zM353.80 487.00h9.20v1.35h-9.20zM353.80 489.00h9.20v1.35h-9.20zM353.80 491.00h9.20v1.35h-9.20zM353.80 494.00h9.20v1.35h-9.20zM353.80 496.00h9.20v1.35h-9.20zM353.80 498.00h9.20v1.35h-9.20zM353.80 500.00h9.20v1.35h-9.20zM353.80 502.00h9.20v1.35h-9.20zM353.80 504.00h9.20v1.35h-9.20zM353.80 507.00h9.20v1.35h-9.20zM353.80 509.00h9.20v0.50h-9.20z" fill="#151515"/>
<rect x="363.00" y="442.20" width="9.20" height="67.30" fill="url(#dg)" stroke="#3a3a3a" stroke-width="0.9"/>
<line x1="321.60" y1="506.00" x2="321.60" y2="509.50" stroke="#555" stroke-width="0.8"/>
<line x1="319.90" y1="506.00" x2="323.30" y2="506.00" stroke="#333" stroke-width="1.1"/>
<line x1="319.90" y1="509.50" x2="323.30" y2="509.50" stroke="#3a3a3a" stroke-width="0.9"/>
<line x1="330.80" y1="431.20" x2="330.80" y2="447.30" stroke="#555" stroke-width="0.8"/>
<line x1="329.10" y1="431.20" x2="332.50" y2="431.20" stroke="#333" stroke-width="1.1"/>
<line x1="329.10" y1="447.30" x2="332.50" y2="447.30" stroke="#3a3a3a" stroke-width="0.9"/>
<line x1="340.00" y1="499.10" x2="340.00" y2="507.40" stroke="#555" stroke-width="0.8"/>
<line x1="338.30" y1="499.10" x2="341.70" y2="499.10" stroke="#333" stroke-width="1.1"/>
<line x1="338.30" y1="507.40" x2="341.70" y2="507.40" stroke="#3a3a3a" stroke-width="0.9"/>
<line x1="349.20" y1="495.30" x2="349.20" y2="498.40" stroke="#555" stroke-width="0.8"/>
<line x1="347.50" y1="495.30" x2="350.90" y2="495.30" stroke="#333" stroke-width="1.1"/>
<line x1="358.40" y1="433.50" x2="358.40" y2="443.00" stroke="#555" stroke-width="0.8"/>
<line x1="356.70" y1="433.50" x2="360.10" y2="433.50" stroke="#333" stroke-width="1.1"/>
<line x1="356.70" y1="443.00" x2="360.10" y2="443.00" stroke="#3a3a3a" stroke-width="0.9"/>
<line x1="367.60" y1="439.60" x2="367.60" y2="445.00" stroke="#555" stroke-width="0.8"/>
<line x1="365.90" y1="439.60" x2="369.30" y2="439.60" stroke="#333" stroke-width="1.1"/>
<line x1="365.90" y1="445.00" x2="369.30" y2="445.00" stroke="#3a3a3a" stroke-width="0.9"/>
<rect x="384.70" y="506.90" width="9.20" height="2.60" fill="#808080" stroke="#3a3a3a" stroke-width="0.9"/>
<rect x="393.90" y="395.40" width="9.20" height="114.10" fill="#c8c8c8" stroke="#3a3a3a" stroke-width="0.9"/>
<rect x="403.10" y="501.40" width="9.20" height="8.10" fill="#909090" stroke="#3a3a3a" stroke-width="0.9"/>
<rect x="412.30" y="500.70" width="9.20" height="8.80" fill="#080808" stroke="#3a3a3a" stroke-width="0.9"/>
<rect x="421.50" y="380.40" width="9.20" height="129.10" fill="#fff" stroke="#3a3a3a" stroke-width="0.9"/>
<path d="M421.50 380.00h9.20v1.35h-9.20zM421.50 383.00h9.20v1.35h-9.20zM421.50 385.00h9.20v1.35h-9.20zM421.50 387.00h9.20v1.35h-9.20zM421.50 389.00h9.20v1.35h-9.20zM421.50 391.00h9.20v1.35h-9.20zM421.50 393.00h9.20v1.35h-9.20zM421.50 396.00h9.20v1.35h-9.20zM421.50 398.00h9.20v1.35h-9.20zM421.50 400.00h9.20v1.35h-9.20zM421.50 402.00h9.20v1.35h-9.20zM421.50 404.00h9.20v1.35h-9.20zM421.50 407.00h9.20v1.35h-9.20zM421.50 409.00h9.20v1.35h-9.20zM421.50 411.00h9.20v1.35h-9.20zM421.50 413.00h9.20v1.35h-9.20zM421.50 415.00h9.20v1.35h-9.20zM421.50 417.00h9.20v1.35h-9.20zM421.50 420.00h9.20v1.35h-9.20zM421.50 422.00h9.20v1.35h-9.20zM421.50 424.00h9.20v1.35h-9.20zM421.50 426.00h9.20v1.35h-9.20zM421.50 428.00h9.20v1.35h-9.20zM421.50 431.00h9.20v1.35h-9.20zM421.50 433.00h9.20v1.35h-9.20zM421.50 435.00h9.20v1.35h-9.20zM421.50 437.00h9.20v1.35h-9.20zM421.50 439.00h9.20v1.35h-9.20zM421.50 441.00h9.20v1.35h-9.20zM421.50 444.00h9.20v1.35h-9.20zM421.50 446.00h9.20v1.35h-9.20zM421.50 448.00h9.20v1.35h-9.20zM421.50 450.00h9.20v1.35h-9.20zM421.50 452.00h9.20v1.35h-9.20zM421.50 455.00h9.20v1.35h-9.20zM421.50 457.00h9.20v1.35h-9.20zM421.50 459.00h9.20v1.35h-9.20zM421.50 461.00h9.20v1.35h-9.20zM421.50 463.00h9.20v1.35h-9.20zM421.50 465.00h9.20v1.35h-9.20zM421.50 468.00h9.20v1.35h-9.20zM421.50 470.00h9.20v1.35h-9.20zM421.50 472.00h9.20v1.35h-9.20zM421.50 474.00h9.20v1.35h-9.20zM421.50 476.00h9.20v1.35h-9.20zM421.50 478.00h9.20v1.35h-9.20zM421.50 481.00h9.20v1.35h-9.20zM421.50 483.00h9.20v1.35h-9.20zM421.50 485.00h9.20v1.35h-9.20zM421.50 487.00h9.20v1.35h-9.20zM421.50 489.00h9.20v1.35h-9.20zM421.50 492.00h9.20v1.35h-9.20zM421.50 494.00h9.20v1.35h-9.20zM421.50 496.00h9.20v1.35h-9.20zM421.50 498.00h9.20v1.35h-9.20zM421.50 500.00h9.20v1.35h-9.20zM421.50 502.00h9.20v1.35h-9.20zM421.50 505.00h9.20v1.35h-9.20zM421.50 507.00h9.20v1.35h-9.20zM421.50 509.00h9.20v0.50h-9.20z" fill="#151515"/>
<rect x="430.70" y="394.30" width="9.20" height="115.20" fill="url(#dg)" stroke="#3a3a3a" stroke-width="0.9"/>
<line x1="389.30" y1="503.60" x2="389.30" y2="509.50" stroke="#555" stroke-width="0.8"/>
<line x1="387.60" y1="503.60" x2="391.00" y2="503.60" stroke="#333" stroke-width="1.1"/>
<line x1="387.60" y1="509.50" x2="391.00" y2="509.50" stroke="#3a3a3a" stroke-width="0.9"/>
<line x1="398.50" y1="389.40" x2="398.50" y2="402.00" stroke="#555" stroke-width="0.8"/>
<line x1="396.80" y1="389.40" x2="400.20" y2="389.40" stroke="#333" stroke-width="1.1"/>
<line x1="396.80" y1="402.00" x2="400.20" y2="402.00" stroke="#3a3a3a" stroke-width="0.9"/>
<line x1="407.70" y1="498.50" x2="407.70" y2="505.00" stroke="#555" stroke-width="0.8"/>
<line x1="406.00" y1="498.50" x2="409.40" y2="498.50" stroke="#333" stroke-width="1.1"/>
<line x1="406.00" y1="505.00" x2="409.40" y2="505.00" stroke="#3a3a3a" stroke-width="0.9"/>
<line x1="416.90" y1="499.20" x2="416.90" y2="500.70" stroke="#555" stroke-width="0.8"/>
<line x1="415.20" y1="499.20" x2="418.60" y2="499.20" stroke="#333" stroke-width="1.1"/>
<line x1="426.10" y1="371.00" x2="426.10" y2="389.40" stroke="#555" stroke-width="0.8"/>
<line x1="424.40" y1="371.00" x2="427.80" y2="371.00" stroke="#333" stroke-width="1.1"/>
<line x1="424.40" y1="389.40" x2="427.80" y2="389.40" stroke="#3a3a3a" stroke-width="0.9"/>
<line x1="435.30" y1="387.70" x2="435.30" y2="400.90" stroke="#555" stroke-width="0.8"/>
<line x1="433.60" y1="387.70" x2="437.00" y2="387.70" stroke="#333" stroke-width="1.1"/>
<line x1="433.60" y1="400.90" x2="437.00" y2="400.90" stroke="#3a3a3a" stroke-width="0.9"/>
<rect x="452.20" y="508.80" width="9.20" height="0.70" fill="#808080" stroke="#3a3a3a" stroke-width="0.9"/>
<rect x="461.40" y="367.70" width="9.20" height="141.80" fill="#c8c8c8" stroke="#3a3a3a" stroke-width="0.9"/>
<rect x="470.60" y="501.80" width="9.20" height="7.70" fill="#909090" stroke="#3a3a3a" stroke-width="0.9"/>
<rect x="479.80" y="499.50" width="9.20" height="10.00" fill="#080808" stroke="#3a3a3a" stroke-width="0.9"/>
<rect x="489.00" y="369.60" width="9.20" height="139.90" fill="#fff" stroke="#3a3a3a" stroke-width="0.9"/>
<path d="M489.00 370.00h9.20v1.35h-9.20zM489.00 372.00h9.20v1.35h-9.20zM489.00 374.00h9.20v1.35h-9.20zM489.00 376.00h9.20v1.35h-9.20zM489.00 378.00h9.20v1.35h-9.20zM489.00 380.00h9.20v1.35h-9.20zM489.00 383.00h9.20v1.35h-9.20zM489.00 385.00h9.20v1.35h-9.20zM489.00 387.00h9.20v1.35h-9.20zM489.00 389.00h9.20v1.35h-9.20zM489.00 391.00h9.20v1.35h-9.20zM489.00 394.00h9.20v1.35h-9.20zM489.00 396.00h9.20v1.35h-9.20zM489.00 398.00h9.20v1.35h-9.20zM489.00 400.00h9.20v1.35h-9.20zM489.00 402.00h9.20v1.35h-9.20zM489.00 404.00h9.20v1.35h-9.20zM489.00 407.00h9.20v1.35h-9.20zM489.00 409.00h9.20v1.35h-9.20zM489.00 411.00h9.20v1.35h-9.20zM489.00 413.00h9.20v1.35h-9.20zM489.00 415.00h9.20v1.35h-9.20zM489.00 418.00h9.20v1.35h-9.20zM489.00 420.00h9.20v1.35h-9.20zM489.00 422.00h9.20v1.35h-9.20zM489.00 424.00h9.20v1.35h-9.20zM489.00 426.00h9.20v1.35h-9.20zM489.00 428.00h9.20v1.35h-9.20zM489.00 431.00h9.20v1.35h-9.20zM489.00 433.00h9.20v1.35h-9.20zM489.00 435.00h9.20v1.35h-9.20zM489.00 437.00h9.20v1.35h-9.20zM489.00 439.00h9.20v1.35h-9.20zM489.00 442.00h9.20v1.35h-9.20zM489.00 444.00h9.20v1.35h-9.20zM489.00 446.00h9.20v1.35h-9.20zM489.00 448.00h9.20v1.35h-9.20zM489.00 450.00h9.20v1.35h-9.20zM489.00 452.00h9.20v1.35h-9.20zM489.00 455.00h9.20v1.35h-9.20zM489.00 457.00h9.20v1.35h-9.20zM489.00 459.00h9.20v1.35h-9.20zM489.00 461.00h9.20v1.35h-9.20zM489.00 463.00h9.20v1.35h-9.20zM489.00 466.00h9.20v1.35h-9.20zM489.00 468.00h9.20v1.35h-9.20zM489.00 470.00h9.20v1.35h-9.20zM489.00 472.00h9.20v1.35h-9.20zM489.00 474.00h9.20v1.35h-9.20zM489.00 476.00h9.20v1.35h-9.20zM489.00 479.00h9.20v1.35h-9.20zM489.00 481.00h9.20v1.35h-9.20zM489.00 483.00h9.20v1.35h-9.20zM489.00 485.00h9.20v1.35h-9.20zM489.00 487.00h9.20v1.35h-9.20zM489.00 490.00h9.20v1.35h-9.20zM489.00 492.00h9.20v1.35h-9.20zM489.00 494.00h9.20v1.35h-9.20zM489.00 496.00h9.20v1.35h-9.20zM489.00 498.00h9.20v1.35h-9.20zM489.00 500.00h9.20v1.35h-9.20zM489.00 503.00h9.20v1.35h-9.20zM489.00 505.00h9.20v1.35h-9.20zM489.00 507.00h9.20v1.35h-9.20zM489.00 509.00h9.20v0.50h-9.20z" fill="#151515"/>
<rect x="498.20" y="367.70" width="9.20" height="141.80" fill="url(#dg)" stroke="#3a3a3a" stroke-width="0.9"/>
<line x1="456.80" y1="507.40" x2="456.80" y2="509.50" stroke="#555" stroke-width="0.8"/>
<line x1="455.10" y1="507.40" x2="458.50" y2="507.40" stroke="#333" stroke-width="1.1"/>
<line x1="455.10" y1="509.50" x2="458.50" y2="509.50" stroke="#3a3a3a" stroke-width="0.9"/>
<line x1="466.00" y1="361.20" x2="466.00" y2="375.90" stroke="#555" stroke-width="0.8"/>
<line x1="464.30" y1="361.20" x2="467.70" y2="361.20" stroke="#333" stroke-width="1.1"/>
<line x1="464.30" y1="375.90" x2="467.70" y2="375.90" stroke="#3a3a3a" stroke-width="0.9"/>
<line x1="475.20" y1="498.70" x2="475.20" y2="505.20" stroke="#555" stroke-width="0.8"/>
<line x1="473.50" y1="498.70" x2="476.90" y2="498.70" stroke="#333" stroke-width="1.1"/>
<line x1="473.50" y1="505.20" x2="476.90" y2="505.20" stroke="#3a3a3a" stroke-width="0.9"/>
<line x1="484.40" y1="496.10" x2="484.40" y2="499.50" stroke="#555" stroke-width="0.8"/>
<line x1="482.70" y1="496.10" x2="486.10" y2="496.10" stroke="#333" stroke-width="1.1"/>
<line x1="493.60" y1="361.20" x2="493.60" y2="376.70" stroke="#555" stroke-width="0.8"/>
<line x1="491.90" y1="361.20" x2="495.30" y2="361.20" stroke="#333" stroke-width="1.1"/>
<line x1="491.90" y1="376.70" x2="495.30" y2="376.70" stroke="#3a3a3a" stroke-width="0.9"/>
<line x1="502.80" y1="358.40" x2="502.80" y2="378.10" stroke="#555" stroke-width="0.8"/>
<line x1="501.10" y1="358.40" x2="504.50" y2="358.40" stroke="#333" stroke-width="1.1"/>
<line x1="501.10" y1="378.10" x2="504.50" y2="378.10" stroke="#3a3a3a" stroke-width="0.9"/>
<line x1="308.20" y1="509.50" x2="513.80" y2="509.50" stroke="#333" stroke-width="1"/>
<line x1="310.70" y1="509.50" x2="310.70" y2="513.00" stroke="#777" stroke-width="0.8"/>
<line x1="378.00" y1="509.50" x2="378.00" y2="513.00" stroke="#777" stroke-width="0.8"/>
<line x1="446.40" y1="509.50" x2="446.40" y2="513.00" stroke="#777" stroke-width="0.8"/>
<line x1="513.80" y1="509.50" x2="513.80" y2="513.00" stroke="#777" stroke-width="0.8"/>
<text x="307.60" y="514.30" font-size="14.3" text-anchor="end" font-weight="normal" >0%</text>
<text x="307.60" y="476.60" font-size="14.3" text-anchor="end" font-weight="normal" >10%</text>
<text x="307.60" y="439.20" font-size="14.3" text-anchor="end" font-weight="normal" >20%</text>
<text x="307.60" y="400.40" font-size="14.3" text-anchor="end" font-weight="normal" >30%</text>
<text x="307.60" y="363.70" font-size="14.3" text-anchor="end" font-weight="normal" >40%</text>
<text x="344.40" y="528.00" font-size="14.3" text-anchor="middle" font-weight="normal" >1</text>
<text x="412.25" y="528.00" font-size="14.3" text-anchor="middle" font-weight="normal" >2</text>
<text x="480.40" y="528.00" font-size="14.3" text-anchor="middle" font-weight="normal" >3</text>
<text x="343.50" y="542.60" font-size="14.3" text-anchor="start" font-weight="normal" textLength="147.8" lengthAdjust="spacing">Days after Transfection</text>
<text x="0" y="0" font-size="14.3" text-anchor="middle" transform="translate(277.00 433.60) rotate(-90)">Percent Dead</text>
<text x="261.00" y="345.00" font-size="23" text-anchor="start" font-weight="bold" style="stroke:none">D</text>
<rect x="334.00" y="560.10" width="10.2" height="17.3" fill="#808080" stroke="#5a5a5a" stroke-width="1"/>
<text x="346.30" y="573.50" font-size="14.3" text-anchor="start" font-weight="normal" >Vector</text>
<rect x="334.00" y="588.40" width="10.2" height="17.3" fill="#c8c8c8" stroke="#5a5a5a" stroke-width="1"/>
<text x="345.00" y="603.00" font-size="14.3" text-anchor="start" font-weight="normal" >Pbx1Bb</text>
<rect x="334.00" y="616.80" width="10.2" height="17.3" fill="#909090" stroke="#5a5a5a" stroke-width="1"/>
<text x="345.00" y="622.70" font-size="14.3" text-anchor="start" font-weight="normal" >Pbx1b</text>
<text x="345.00" y="635.60" font-size="14.3" text-anchor="start" font-weight="normal" >+DEVD</text>
<rect x="420.70" y="560.30" width="10.2" height="17.3" fill="#080808" stroke="#5a5a5a" stroke-width="1"/>
<text x="431.20" y="574.50" font-size="14.3" text-anchor="start" font-weight="normal" >Pbx1b+IETD</text>
<rect x="420.70" y="588.00" width="10.2" height="17.3" fill="#fff" stroke="#5a5a5a" stroke-width="1"/>
<path d="M420.70 588.00h10.20v1.15h-10.20zM420.70 590.00h10.20v1.15h-10.20zM420.70 592.00h10.20v1.15h-10.20zM420.70 595.00h10.20v1.15h-10.20zM420.70 597.00h10.20v1.15h-10.20zM420.70 599.00h10.20v1.15h-10.20zM420.70 601.00h10.20v1.15h-10.20zM420.70 603.00h10.20v1.15h-10.20z" fill="#151515"/>
<text x="431.20" y="601.80" font-size="14.3" text-anchor="start" font-weight="normal" >Pbx1b+LEHD</text>
<rect x="420.70" y="616.00" width="10.2" height="17.3" fill="url(#dg2)" stroke="#5a5a5a" stroke-width="1"/>
<text x="431.20" y="630.20" font-size="14.3" text-anchor="start" font-weight="normal" >Pbx1b+VEID</text>
</svg>
</body></html>
